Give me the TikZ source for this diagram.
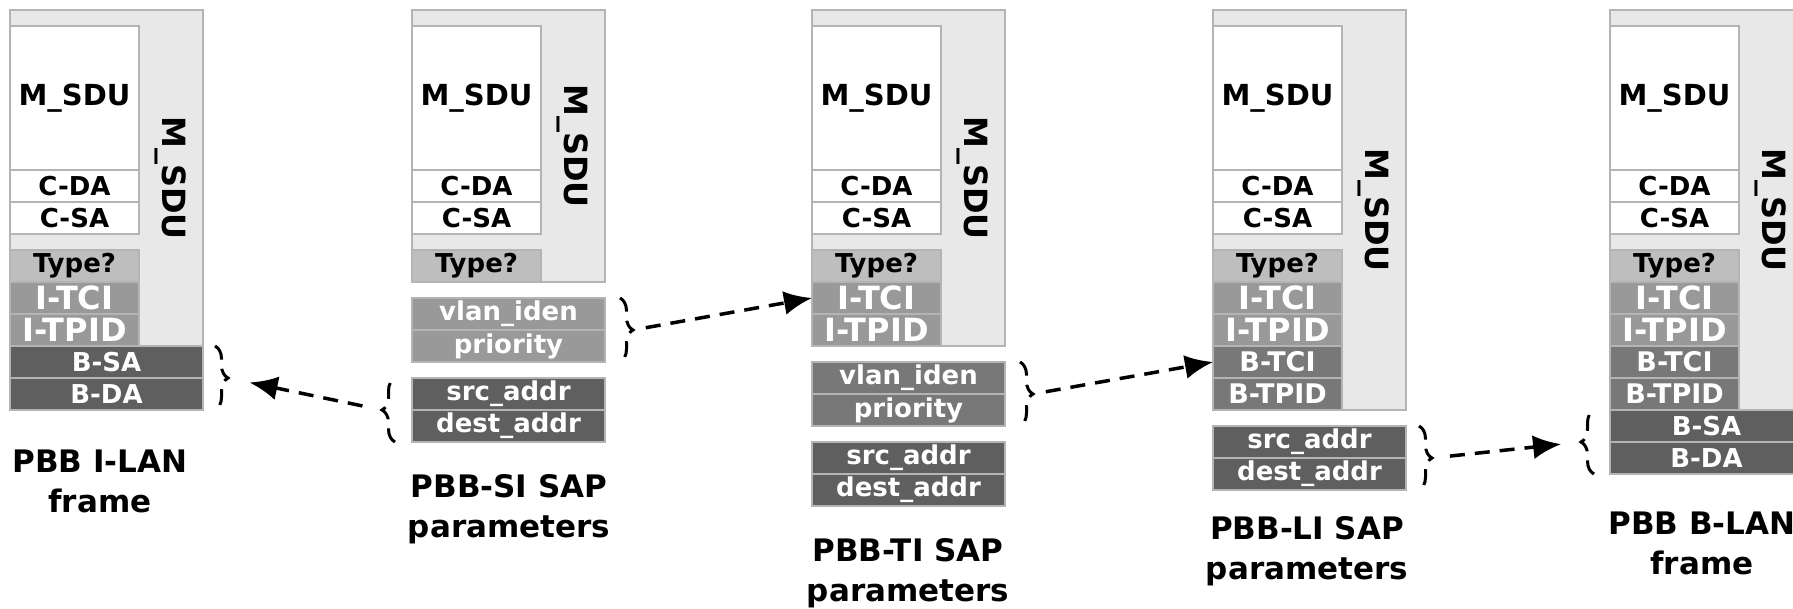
\documentclass[tikz,border=0pt]{standalone}
\usepackage{fontspec}
\setmainfont{DejaVu Sans}
\usepackage{tikz}
\usetikzlibrary{arrows.meta,decorations.pathreplacing}

\definecolor{boxgray}{HTML}{E8E8E8}
\definecolor{linegray}{HTML}{B4B4B4}
\definecolor{typegray}{HTML}{BEBEBE}
\definecolor{itaggray}{HTML}{999999}
\definecolor{btaggray}{HTML}{787878}
\definecolor{addrgray}{HTML}{5F5F5F}

\begin{document}
\begin{tikzpicture}[
      x=1pt, y=-1pt,
      cell/.style={
          rectangle, draw=linegray, line width=1.5pt,
          anchor=north west, inner sep=0pt, outer sep=0pt,
          minimum width=129pt, minimum height=32pt,
          font=\fontsize{26}{30}\selectfont\bfseries
        },
      widecell/.style={cell, minimum width=193pt},
      whitecell/.style={cell, fill=white, text=black},
      typecell/.style={cell, fill=typegray, text=black},
      itag/.style={cell, fill=itaggray, text=white, font=\fontsize{32}{36}\selectfont\bfseries},
      btag/.style={cell, fill=btaggray, text=white, font=\fontsize{27}{32}\selectfont\bfseries},
      addr/.style={widecell, fill=addrgray, text=white},
      param/.style={widecell, text=white, font=\fontsize{26}{30}\selectfont\bfseries},
      outerbox/.style={
          rectangle, draw=linegray, fill=boxgray, line width=1.5pt,
          anchor=north west, inner sep=0pt, outer sep=0pt, minimum width=193pt
        },
      vlabel/.style={rotate=-90, inner sep=0pt, font=\fontsize{32}{36}\selectfont\bfseries},
      caption/.style={anchor=north, align=center, inner sep=0pt, font=\fontsize{31}{40}\selectfont\bfseries},
      bracket/.style={decorate, decoration={brace, amplitude=13pt}, line width=3pt, dash pattern=on 16pt off 9pt},
      link/.style={-{Latex[length=28pt,width=24pt]}, line width=3.5pt, dash pattern=on 15pt off 10pt},
    ]
    \clip (0,0) rectangle (1793,608);

    % common part of every stack
    \foreach \i/\x/\h in {1/10/336, 2/412/272, 3/812/336, 4/1213/400, 5/1610/400}{
        \node[outerbox, minimum height=\h pt] (outer\i) at (\x,10) {};
        \node[vlabel] (vsdu\i) at (\x+161,10+\h/2) {M\_SDU};
        \node[whitecell, minimum height=144pt, font=\fontsize{29}{32}\selectfont\bfseries] (msdu\i) at (\x,26) {M\_SDU};
        \node[whitecell] (cda\i) at (\x,170) {C-DA};
        \node[whitecell] (csa\i) at (\x,202) {C-SA};
        \node[typecell] (type\i) at (\x,250) {Type?};
      }
    \foreach \i/\x in {1/10, 3/812, 4/1213, 5/1610}{
        \node[itag] (itci\i) at (\x,282) {I-TCI};
        \node[itag] (itpid\i) at (\x,314) {I-TPID};
      }
    \foreach \i/\x in {4/1213, 5/1610}{
        \node[btag] (btci\i) at (\x,346) {B-TCI};
        \node[btag] (btpid\i) at (\x,378) {B-TPID};
      }

    % I-LAN frame
    \node[addr] (bsa1) at (10,346) {B-SA};
    \node[addr] (bda1) at (10,378) {B-DA};
    \node[caption] (cap1) at (100,450) {PBB I-LAN\\frame};

    % SI SAP
    \node[param, fill=itaggray] (vlan2) at (412,298) {vlan\_iden};
    \node[param, fill=itaggray] (prio2) at (412,330) {priority};
    \node[addr] (src2) at (412,378) {src\_addr};
    \node[addr] (dest2) at (412,410) {dest\_addr};
    \node[caption] (cap2) at (509,474) {PBB-SI SAP\\parameters};

    % TI SAP
    \node[param, fill=btaggray] (vlan3) at (812,362) {vlan\_iden};
    \node[param, fill=btaggray] (prio3) at (812,394) {priority};
    \node[addr] (src3) at (812,442) {src\_addr};
    \node[addr] (dest3) at (812,474) {dest\_addr};
    \node[caption] (cap3) at (908,538) {PBB-TI SAP\\parameters};

    % LI SAP
    \node[addr] (src4) at (1213,426) {src\_addr};
    \node[addr] (dest4) at (1213,458) {dest\_addr};
    \node[caption] (cap4) at (1307,516) {PBB-LI SAP\\parameters};

    % B-LAN frame
    \node[addr] (bsa5) at (1610,410) {B-SA};
    \node[addr] (bda5) at (1610,442) {B-DA};
    \node[caption] (cap5) at (1702,512) {PBB B-LAN\\frame};

    % braces
    \draw[bracket] ([xshift=12pt]bsa1.north east) -- ([xshift=12pt]bda1.south east);
    \draw[bracket] ([xshift=-17pt]dest2.south west) -- ([xshift=-17pt]src2.north west);
    \draw[bracket] ([xshift=15pt]vlan2.north east) -- ([xshift=15pt]prio2.south east);
    \draw[bracket] ([xshift=15pt]vlan3.north east) -- ([xshift=15pt]prio3.south east);
    \draw[bracket] ([xshift=13pt]src4.north east) -- ([xshift=13pt]dest4.south east);
    \draw[bracket] ([xshift=-16pt]bda5.south west) -- ([xshift=-16pt]bsa5.north west);
    \coordinate (tip1) at ([xshift=25pt]bsa1.south east);
    \coordinate (tip2) at ([xshift=-30pt]src2.south west);
    \coordinate (tip3) at ([xshift=28pt]vlan2.south east);
    \coordinate (tip4) at ([xshift=28pt]vlan3.south east);
    \coordinate (tip5) at ([xshift=26pt]src4.south east);
    \coordinate (tip6) at ([xshift=-29pt]bsa5.south west);

    % mappings
    \draw[link, shorten <=20pt, shorten >=22pt] (tip2) -- (tip1);
    \draw[link, shorten <=13pt] (tip3) -- (itci3.west);
    \draw[link, shorten <=13pt] (tip4) -- (btci4.west);
    \draw[link, shorten <=18pt, shorten >=20pt] (tip5) -- (tip6);
  \end{tikzpicture}
\end{document}
